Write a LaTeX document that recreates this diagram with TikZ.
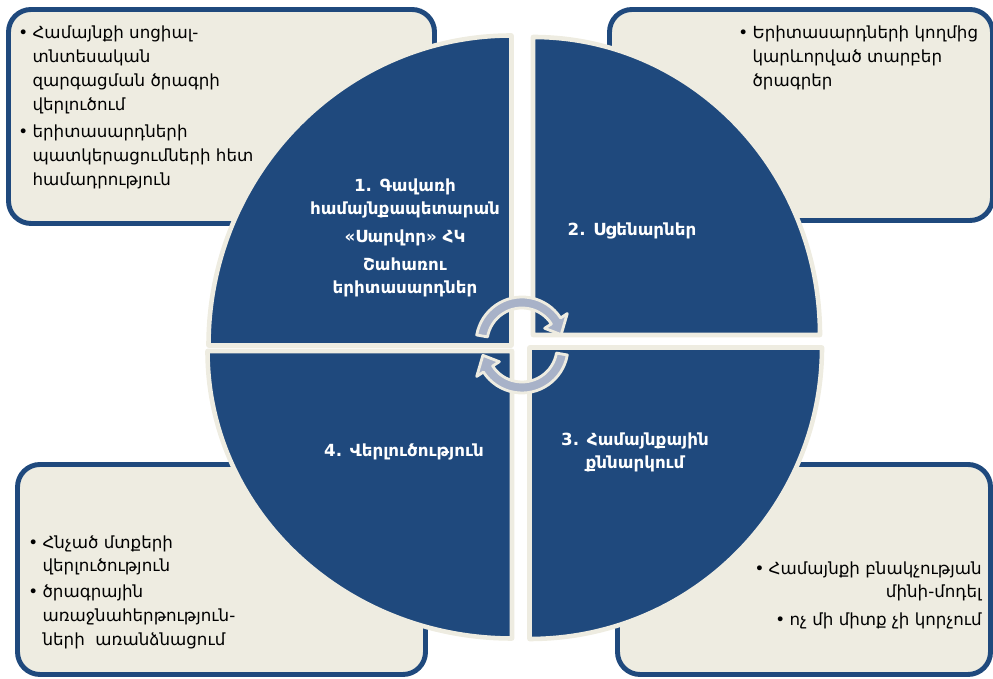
\documentclass[tikz,border=0pt]{standalone}
\usepackage{fontspec}
\setmainfont[Script=Armenian]{DejaVu Sans}
\usepackage{tikz}
\usetikzlibrary{calc}

\definecolor{cyblue}{HTML}{1F497D}
\definecolor{cybeige}{HTML}{EEECE1}
\definecolor{cygray}{HTML}{A8B2C8}

\newcommand{\blt}{\makebox[0.85em][l]{•}}
\newcommand{\ind}{\hspace*{0.85em}}

\begin{document}
\begin{tikzpicture}[
  box/.style = {draw = cyblue, fill = cybeige, line width = 2.8pt, rounded corners = 0.45cm},
  quad/.style = {draw = cybeige, fill = cyblue, line width = 2.6pt, line join = round},
  turn/.style = {draw = cybeige, fill = cygray, line width = 1.6pt, line join = round},
  note/.style = {font = \fontsize{9.5}{13.6}\selectfont, inner sep = 0pt},
  title/.style = {font = \bfseries\fontsize{9.5}{13}\selectfont, text = white, align = center, inner sep = 0pt}
]
\useasboundingbox (0, 0) rectangle (19.86, 13.58);

% corner boxes
\draw[box] (0.17, 9.11) rectangle (8.69, 13.39);
\draw[box] (12.19, 9.17) rectangle (19.85, 13.39);
\draw[box] (0.35, 0.09) rectangle (8.51, 4.29);
\draw[box] (12.35, 0.09) rectangle (19.81, 4.29);

% the four quarters
\draw[quad] (10.23, 6.67) -- ++(-6.06, 0) arc[start angle = 180, end angle = 90, x radius = 6.06, y radius = 6.20] -- cycle;
\draw[quad] (10.66, 6.88) -- ++(0, 5.96) arc[start angle = 90, end angle = 0, x radius = 5.74, y radius = 5.96] -- cycle;
\draw[quad] (10.59, 6.63) -- ++(5.85, 0) arc[start angle = 0, end angle = -90, x radius = 5.85, y radius = 5.83] -- cycle;
\draw[quad] (10.24, 6.56) -- ++(0, -5.75) arc[start angle = 270, end angle = 180, x radius = 6.09, y radius = 5.75] -- cycle;

% turning arrows
\begin{scope}[shift = {(10.44, 6.72)}]
\draw[turn] (170:0.92) arc[start angle = 170, end angle = 33, radius = 0.92] -- (33:1.08) -- (12:0.80) -- (33:0.54) -- (33:0.70) arc[start angle = 33, end angle = 170, radius = 0.70] -- cycle;
\end{scope}
\begin{scope}[shift = {(10.44, 6.64)}]
\draw[turn] (350:0.92) arc[start angle = 350, end angle = 213, radius = 0.92] -- (213:1.08) -- (192:0.80) -- (213:0.54) -- (213:0.70) arc[start angle = 213, end angle = 350, radius = 0.70] -- cycle;
\end{scope}

% quarter titles
\node[title] (step1) at (8.10, 8.82) {1. Գավառի\\համայնքապետարան\\[3pt]«Սարվոր» ՀԿ\\[3pt]Շահառու\\երիտասարդներ};
\node[title] (step2) at (12.64, 8.96) {2. Սցենարներ};
\node[title] (step3) at (12.70, 4.54) {3. Համայնքային\\քննարկում};
\node[title] (step4) at (8.08, 4.54) {4. Վերլուծություն};

% box texts
\node[note, anchor = north west, align = left] (note1) at (0.36, 13.07) {\blt Համայնքի սոցիալ-\\\ind տնտեսական\\\ind զարգացման ծրագրի\\\ind վերլուծում\\[2pt]\blt երիտասարդների\\\ind պատկերացումների հետ\\\ind համադրություն};
\node[note, anchor = north west, align = left] (note2) at (14.76, 13.07) {\blt Երիտասարդների կողմից\\\ind կարևորված տարբեր\\\ind ծրագրեր};
\node[note, anchor = north west, align = left] (note4) at (0.56, 2.88) {\blt Հնչած մտքերի\\\ind վերլուծություն\\[1pt]\blt ծրագրային\\\ind առաջնահերթություն-\\\ind ների~ առանձնացում};
\node[note, anchor = north east, align = right] (note3) at (19.64, 2.36) {\blt Համայնքի բնակչության\\մինի-մոդել\\[2pt]\blt ոչ մի միտք չի կորչում};
\end{tikzpicture}
\end{document}
